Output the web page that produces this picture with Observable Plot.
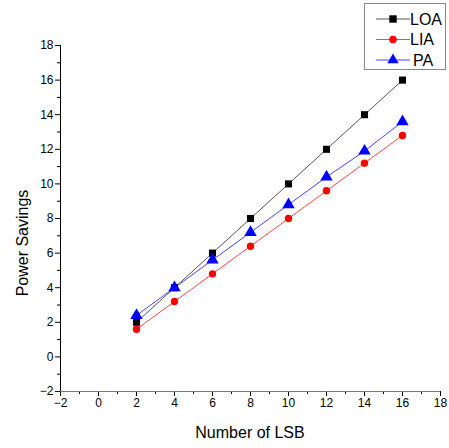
<!DOCTYPE html>
<html><head><meta charset="utf-8">
<script src="https://cdn.jsdelivr.net/npm/d3@7"></script>
<script src="https://cdn.jsdelivr.net/npm/@observablehq/plot@0.6"></script>
<style>
body{margin:0;background:#fff;}
#wrap{position:relative;width:449px;height:448px;font-family:"Liberation Sans",Arial,sans-serif;}
#legend{position:absolute;left:364px;top:3px;}
</style>
</head><body>
<div id="wrap"></div>
<script>
const lsb = [2, 4, 6, 8, 10, 12, 14, 16];
const loa = [2, 4, 6, 8, 10, 12, 14, 16];
const lia = [1.6, 3.2, 4.8, 6.4, 8, 9.6, 11.2, 12.8];
const pa  = [2.4, 4.0, 5.6, 7.2, 8.8, 10.4, 11.9, 13.6];
const seriesNames = ["LOA", "LIA", "PA"];
const seriesColors = ["#000000", "#ff0000", "#0000ff"];
const lineColors = ["#555555", "#ff4444", "#4444ff"];
const majorTicks = [-2, 0, 2, 4, 6, 8, 10, 12, 14, 16, 18];
const minorTicks = [-1, 1, 3, 5, 7, 9, 11, 13, 15, 17];

const rows = [];
[loa, lia, pa].forEach((vals, i) => vals.forEach((v, j) => rows.push({x: lsb[j], y: v, s: seriesNames[i]})));
const byS = s => rows.filter(r => r.s === s);

const chart = Plot.plot({
  width: 449, height: 448,
  marginLeft: 60, marginRight: 9, marginTop: 45, marginBottom: 57,
  style: {fontFamily: "Liberation Sans, Arial, sans-serif", fontSize: "12px", color: "#000", background: "#fff"},
  x: {domain: [-2, 18]},
  y: {domain: [-2, 18]},
  marks: [
    Plot.axisX({ticks: majorTicks, tickSize: 5, tickPadding: 2, label: null, fontSize: 12}),
    Plot.axisX({ticks: minorTicks, tickSize: 3, text: null, label: null}),
    Plot.axisY({ticks: majorTicks, tickSize: 5, tickPadding: 2, label: null, fontSize: 12}),
    Plot.axisY({ticks: minorTicks, tickSize: 3, text: null, label: null}),
    Plot.ruleY([-2], {stroke: "#777"}),
    Plot.ruleX([-2], {stroke: "#000"}),
    Plot.line(byS("LOA"), {x: "x", y: "y", stroke: lineColors[0], strokeWidth: 1}),
    Plot.line(byS("LIA"), {x: "x", y: "y", stroke: lineColors[1], strokeWidth: 1}),
    Plot.line(byS("PA"), {x: "x", y: "y", stroke: lineColors[2], strokeWidth: 1}),
    Plot.dot(byS("LOA"), {x: "x", y: "y", symbol: "square", r: 4, fill: seriesColors[0], stroke: "none"}),
    Plot.dot(byS("LIA"), {x: "x", y: "y", symbol: "circle", r: 3.7, fill: seriesColors[1], stroke: "none"}),
    Plot.dot(byS("PA"), {x: "x", y: "y", symbol: "triangle", r: 4.6, fill: seriesColors[2], stroke: "none"})
  ]
});
const wrap = document.getElementById("wrap");
wrap.appendChild(chart);

// axis titles
const svg = d3.select(chart);
svg.append("text").attr("x", 250).attr("y", 438).attr("text-anchor", "middle")
  .style("font-size", "16px").style("font-family", "Liberation Sans, Arial, sans-serif").text("Number of LSB");
svg.append("text").attr("transform", "translate(28,243) rotate(-90)").attr("text-anchor", "middle")
  .style("font-size", "16px").style("font-family", "Liberation Sans, Arial, sans-serif").text("Power Savings");

// legend
const lg = d3.select(wrap).append("svg").attr("id", "legend").attr("width", 83).attr("height", 68);
lg.append("rect").attr("x", 0.5).attr("y", 0.5).attr("width", 81).attr("height", 66).attr("fill", "#fff").attr("stroke", "#888");
const symGen = [d3.symbolSquare, d3.symbolCircle, d3.symbolTriangle];
const symSize = [55, 45, 55];
seriesNames.forEach((name, i) => {
  const cy = 16 + i * 20.5;
  const g = lg.append("g");
  g.append("line").attr("x1", 12).attr("x2", 46).attr("y1", cy).attr("y2", cy).attr("stroke", lineColors[i]).attr("stroke-width", 1);
  g.append("path").attr("transform", `translate(29,${cy})`).attr("d", d3.symbol(symGen[i], symSize[i])()).attr("fill", seriesColors[i]);
  g.append("text").attr("x", name === "PA" ? 49 : 46).attr("y", cy).attr("dy", "0.36em")
    .style("font-size", "16px").style("font-family", "Liberation Sans, Arial, sans-serif").text(name);
});
</script>
</body></html>
